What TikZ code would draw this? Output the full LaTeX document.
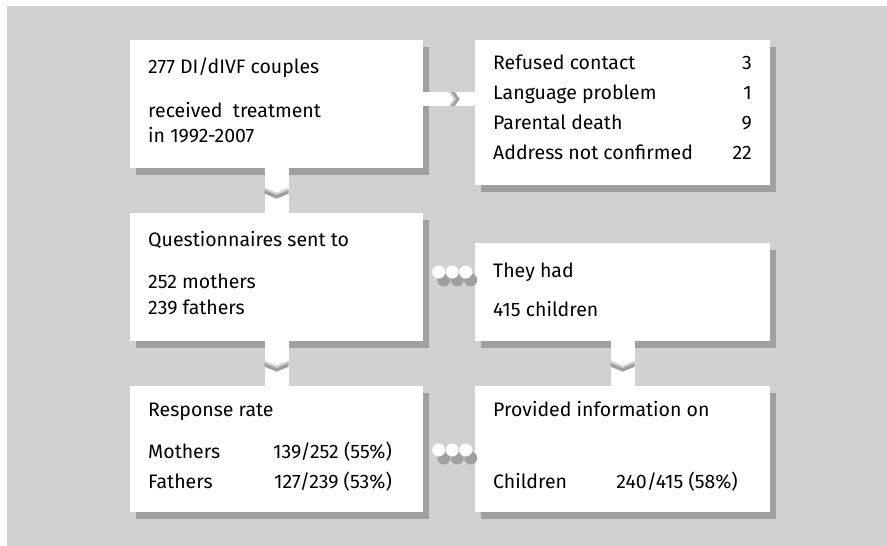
\documentclass[tikz,border=0pt]{standalone}
\usepackage{fontspec}
\setmainfont{Fira Sans}
\usetikzlibrary{calc}
\pgfdeclarelayer{bglayer}
\pgfdeclarelayer{shadowlayer}
\pgfsetlayers{bglayer,shadowlayer,main}
\definecolor{bggray}{RGB}{209,209,209}
\definecolor{shadowgray}{RGB}{160,160,160}
\begin{document}
\begin{tikzpicture}[x=1pt,y=-1pt,
  box/.style={fill=white, draw=none, rectangle, inner sep=0pt, anchor=north west},
  txt/.style={anchor=base west, inner sep=0pt, font=\fontsize{19.5}{22}\selectfont},
  num/.style={anchor=base east, inner sep=0pt, font=\fontsize{19.5}{22}\selectfont},
  vconn/.style={draw=white, line width=24pt},
  hconn/.style={draw=white, line width=14pt},
  vshadow/.style={draw=shadowgray, line width=24pt, shift={(6,7)}},
  hshadow/.style={draw=shadowgray, line width=14pt, shift={(6,7)}},
  vgap/.pic={\fill[bggray] (-12,-3)--(0,2)--(12,-3)--(12,-1)--(0,4)--(-12,-1)--cycle;},
  vchev/.pic={
    \fill[shadowgray] (-12,-1)--(0,4)--(12,-1)--(12,3)--(0,8)--(-12,3)--cycle;
    \fill[bggray] (-12,-3)--(0,2)--(12,-3)--(12,-1)--(0,4)--(-12,-1)--cycle;},
  hgap/.pic={\fill[bggray] (-3,-7)--(2,0)--(-3,7)--(-1,7)--(4,0)--(-1,-7)--cycle;},
  hchev/.pic={
    \fill[shadowgray] (-1,-7)--(4,0)--(-1,7)--(3,7)--(8,0)--(3,-7)--cycle;
    \fill[bggray] (-3,-7)--(2,0)--(-3,7)--(-1,7)--(4,0)--(-1,-7)--cycle;},
  dotrow/.pic={
    \foreach \dx in {-13.5,0,13.5} \fill[shadowgray] (\dx+5,8) circle[radius=6.5];
    \foreach \dx in {-13.5,0,13.5} \fill[white] (\dx,0) circle[radius=6.5];}
]
\useasboundingbox (0,0) rectangle (887,546);
\begin{pgfonlayer}{bglayer}
  \fill[white] (0,0) rectangle (887,546);
  \fill[bggray] (7,6) rectangle (887,546);
\end{pgfonlayer}

% boxes
\node[box, minimum width=293pt, minimum height=128pt] (b1) at (130,40) {};
\node[box, minimum width=295pt, minimum height=145pt] (b2) at (475,40) {};
\node[box, minimum width=293pt, minimum height=128pt] (b3) at (130,213) {};
\node[box, minimum width=295pt, minimum height=98pt] (b4) at (475,243) {};
\node[box, minimum width=293pt, minimum height=126pt] (b5) at (130,386) {};
\node[box, minimum width=295pt, minimum height=126pt] (b6) at (475,386) {};

\coordinate (hy) at (0,99);
\coordinate (dy1) at (0,272);
\coordinate (dy2) at (0,450);

% shadows
\begin{pgfonlayer}{shadowlayer}
  \foreach \b in {b1,b2,b3,b4,b5,b6}
    \fill[shadowgray] ([shift={(6,7)}]\b.north west) rectangle ([shift={(6,7)}]\b.south east);
  \draw[vshadow] (b1.south) -- (b3.north);
  \draw[vshadow] (b3.south) -- (b5.north);
  \draw[vshadow] (b4.south) -- (b6.north);
  \draw[hshadow] (b1.east |- hy) -- (b2.west |- hy);
  \pic[shift={(6,7)}] at ($(b1.south)!0.5!(b3.north)$) {vgap};
  \pic[shift={(6,7)}] at ($(b3.south)!0.5!(b5.north)$) {vgap};
  \pic[shift={(6,7)}] at ($(b4.south)!0.5!(b6.north)$) {vgap};
  \pic[shift={(6,7)}] at ($(b1.east |- hy)!0.55!(b2.west |- hy)$) {hgap};
\end{pgfonlayer}

% connectors
\draw[vconn] (b1.south) -- (b3.north);
\draw[vconn] (b3.south) -- (b5.north);
\draw[vconn] (b4.south) -- (b6.north);
\draw[hconn] (b1.east |- hy) -- (b2.west |- hy);
\pic at ($(b1.south)!0.5!(b3.north)$) {vchev};
\pic at ($(b3.south)!0.5!(b5.north)$) {vchev};
\pic at ($(b4.south)!0.5!(b6.north)$) {vchev};
\pic at ($(b1.east |- hy)!0.55!(b2.west |- hy)$) {hchev};
\pic at ([xshift=3]$(b3.east |- dy1)!0.5!(b4.west |- dy1)$) {dotrow};
\pic at ([xshift=3]$(b5.east |- dy2)!0.5!(b6.west |- dy2)$) {dotrow};

% texts
\node[txt] (t1a) at (148,73) {277 DI/dIVF couples};
\node[txt] (t1b) at (148,117) {received~~treatment};
\node[txt] (t1c) at (148,142) {in 1992-2007};

\node[txt] (t2a) at (493,69) {Refused contact};
\node[num] (n2a) at (752,69) {3};
\node[txt] (t2b) at (493,99) {Language problem};
\node[num] (n2b) at (752,99) {1};
\node[txt] (t2c) at (493,129) {Parental death};
\node[num] (n2c) at (752,129) {9};
\node[txt] (t2d) at (493,159) {Address not confirmed};
\node[num] (n2d) at (752,159) {22};

\node[txt] (t3a) at (148,246) {Questionnaires sent to};
\node[txt] (t3b) at (148,288) {252 mothers};
\node[txt] (t3c) at (148,314) {239 fathers};

\node[txt] (t4a) at (493,277) {They had};
\node[txt] (t4b) at (493,316) {415 children};

\node[txt] (t5a) at (148,416) {Response rate};
\node[txt] (t5b) at (148,458) {Mothers};
\node[num] (n5b) at (392,458) {139/252 (55\%)};
\node[txt] (t5c) at (148,488) {Fathers};
\node[num] (n5c) at (392,488) {127/239 (53\%)};

\node[txt] (t6a) at (493,416) {Provided information on};
\node[txt] (t6b) at (493,488) {Children};
\node[num] (n6b) at (738,488) {240/415 (58\%)};
\end{tikzpicture}
\end{document}
